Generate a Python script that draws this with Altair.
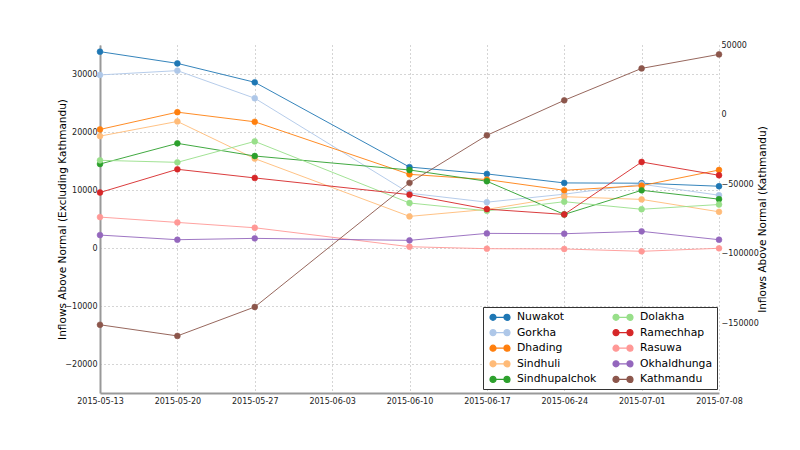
import altair as alt
import pandas as pd

dates = ["2015-05-13", "2015-05-20", "2015-05-27", "2015-06-10",
         "2015-06-17", "2015-06-24", "2015-07-01", "2015-07-08"]
tick_dates = ["2015-05-13", "2015-05-20", "2015-05-27", "2015-06-03", "2015-06-10",
              "2015-06-17", "2015-06-24", "2015-07-01", "2015-07-08"]

Nuwakot = [33850, 31830, 28570, 13950, 12770, 11220, 11170, 10650]
Gorkha = [29840, 30580, 25820, 9450, 7900, 9280, 11000, 9100]
Dhading = [20440, 23420, 21760, 12700, 11800, 9950, 10750, 13450]
Sindhuli = [19290, 21820, 15410, 5450, 6650, 8850, 8380, 6240]
Sindhupalchok = [14480, 18040, 15860, 13450, 11510, 5790, 9950, 8420]
Dolakha = [15120, 14770, 18380, 7760, 6410, 7980, 6680, 7500]
Ramechhap = [9570, 13570, 12080, 9200, 6700, 5790, 14830, 12540]
Rasuwa = [5330, 4410, 3490, 220, -120, -170, -570, -50]
Okhaldhunga = [2230, 1430, 1660, 1320, 2520, 2460, 2870, 1430]
Kathmandu = [-151000, -159000, -138200, -49000, -14900, 10260, 33200, 43260]

left_series = {
    "Nuwakot": Nuwakot, "Gorkha": Gorkha, "Dhading": Dhading, "Sindhuli": Sindhuli,
    "Sindhupalchok": Sindhupalchok, "Dolakha": Dolakha, "Ramechhap": Ramechhap,
    "Rasuwa": Rasuwa, "Okhaldhunga": Okhaldhunga,
}
right_series = {"Kathmandu": Kathmandu}

colors = {
    "Nuwakot": "#1f77b4", "Gorkha": "#aec7e8", "Dhading": "#ff7f0e", "Sindhuli": "#ffbb78",
    "Sindhupalchok": "#2ca02c", "Dolakha": "#98df8a", "Ramechhap": "#d62728",
    "Rasuwa": "#ff9896", "Okhaldhunga": "#9467bd", "Kathmandu": "#8c564b",
}
legend_order = ["Nuwakot", "Gorkha", "Dhading", "Sindhuli", "Sindhupalchok",
                "Dolakha", "Ramechhap", "Rasuwa", "Okhaldhunga", "Kathmandu"]

left_ticks = [-20000, -10000, 0, 10000, 20000, 30000]
right_ticks = [-150000, -100000, -50000, 0, 50000]


def long_df(series):
    rows = []
    for name, vals in series.items():
        for d, v in zip(dates, vals):
            rows.append({"date": d, "region": name, "value": v})
    return pd.DataFrame(rows)


df_left = long_df(left_series)
df_right = long_df(right_series)

FONT = "DejaVu Sans"


def dt(s):
    y, m, d = (int(p) for p in s.split("-"))
    return alt.DateTime(year=y, month=m, date=d, utc=True)


x_enc = alt.X(
    "date:T",
    scale=alt.Scale(type="utc", domain=[dt(tick_dates[0]), dt(tick_dates[-1])], nice=False),
    axis=alt.Axis(
        values=[dt(t) for t in tick_dates], format="%Y-%m-%d", title=None,
        labelFontSize=8, labelFont=FONT, labelColor="#222", labelPadding=4,
        ticks=False, domainColor="#999", domainWidth=2,
        grid=True, gridColor="#aaa", gridDash=[1, 3], gridWidth=1,
        labelOverlap=False, labelFlush=False,
    ),
)

sym = ("M-0.6,0L3.4,0"
       "M-0.6,0a0.6,0.6 0 1,0 1.2,0a0.6,0.6 0 1,0 -1.2,0Z"
       "M2.2,0a0.6,0.6 0 1,0 1.2,0a0.6,0.6 0 1,0 -1.2,0Z")

legend = alt.Legend(
    title=None, orient="none", legendX=383, legendY=262, columns=2,
    symbolType=sym, symbolSize=100, symbolStrokeWidth=1.2, symbolOpacity=1,
    labelFontSize=10.8, labelFont=FONT, labelColor="black", labelOffset=18,
    rowPadding=3.6, columnPadding=13, padding=4,
    strokeColor="#333", fillColor="white",
)
scale = alt.Scale(domain=legend_order, range=[colors[r] for r in legend_order])
stroke_enc = alt.Stroke("region:N", scale=scale, legend=legend)
fill_enc = alt.Fill("region:N", scale=scale, legend=legend)

y_left = alt.Y(
    "value:Q",
    scale=alt.Scale(domain=[-25000, 35000], nice=False, zero=False),
    axis=alt.Axis(
        orient="left", values=left_ticks, format="d",
        title="Inflows Above Normal (Excluding Kathmandu)",
        titleFont=FONT, titleFontSize=10.5, titleFontWeight="normal", titleColor="black",
        titleAngle=270, titleBaseline="middle", titleX=-38, titleY=174,
        labelFontSize=8, labelFont=FONT, labelColor="#222", labelPadding=3,
        ticks=False, domainColor="#999", domainWidth=2,
        grid=True, gridColor="#aaa", gridDash=[1, 3], gridWidth=1,
    ),
)
y_right = alt.Y(
    "value:Q",
    scale=alt.Scale(domain=[-200000, 50000], nice=False, zero=False),
    axis=alt.Axis(
        orient="right", values=right_ticks, format="d",
        title="Inflows Above Normal (Kathmandu)",
        titleFont=FONT, titleFontSize=10.5, titleFontWeight="normal", titleColor="black",
        titleAngle=270, titleBaseline="middle", titleX=43, titleY=174,
        labelFontSize=8, labelFont=FONT, labelColor="#222", labelPadding=2,
        ticks=False, domain=False, grid=False,
    ),
)


def series_layer(df, y_enc):
    base = alt.Chart(df).encode(x=x_enc, y=y_enc)
    return alt.layer(
        base.mark_line(strokeWidth=1, opacity=0.9).encode(stroke=stroke_enc),
        base.mark_point(filled=True, size=34, opacity=1, strokeWidth=0.6).encode(
            fill=fill_enc, stroke=stroke_enc),
    )


chart = alt.layer(series_layer(df_left, y_left), series_layer(df_right, y_right)).resolve_scale(
    y="independent"
).properties(
    width=619, height=348,
    autosize=alt.AutoSizeParams(type="none"),
    padding={"left": 92, "top": 37, "right": 73, "bottom": 49},
    background="white",
).configure_view(strokeWidth=0)

chart.save("out.html", embed_options={"renderer": "svg", "actions": False})
